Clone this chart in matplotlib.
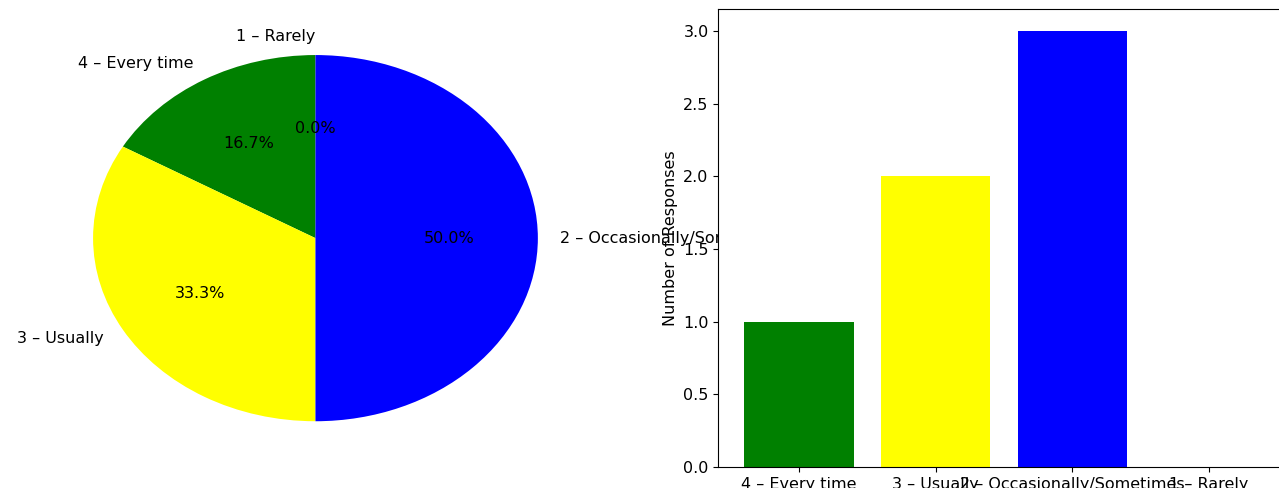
import matplotlib
matplotlib.use("Agg")
import matplotlib.pyplot as plt

categories = ["4 – Every time", "3 – Usually", "2 – Occasionally/Sometimes", "1 – Rarely"]
counts = [1, 2, 3, 0]
colors = ["green", "yellow", "blue", "red"]

plt.rcParams["font.size"] = 11.5

fig = plt.figure(figsize=(12.79, 4.88), dpi=100)
ax_pie = fig.add_axes([0.0293, 0.043, 0.4347, 0.938])
ax_bar = fig.add_axes([0.5616, 0.043, 0.4468, 0.938])

ax_pie.pie(counts, labels=categories, colors=colors, autopct="%1.1f%%", startangle=90)
ax_pie.set_aspect("auto")
ax_pie.set_xlim(-1.25, 1.25)
ax_pie.set_ylim(-1.25, 1.25)

ax_bar.bar(categories, counts, color=colors)
ax_bar.set_ylabel("Number of Responses")

fig.savefig("out.png", dpi=100)
